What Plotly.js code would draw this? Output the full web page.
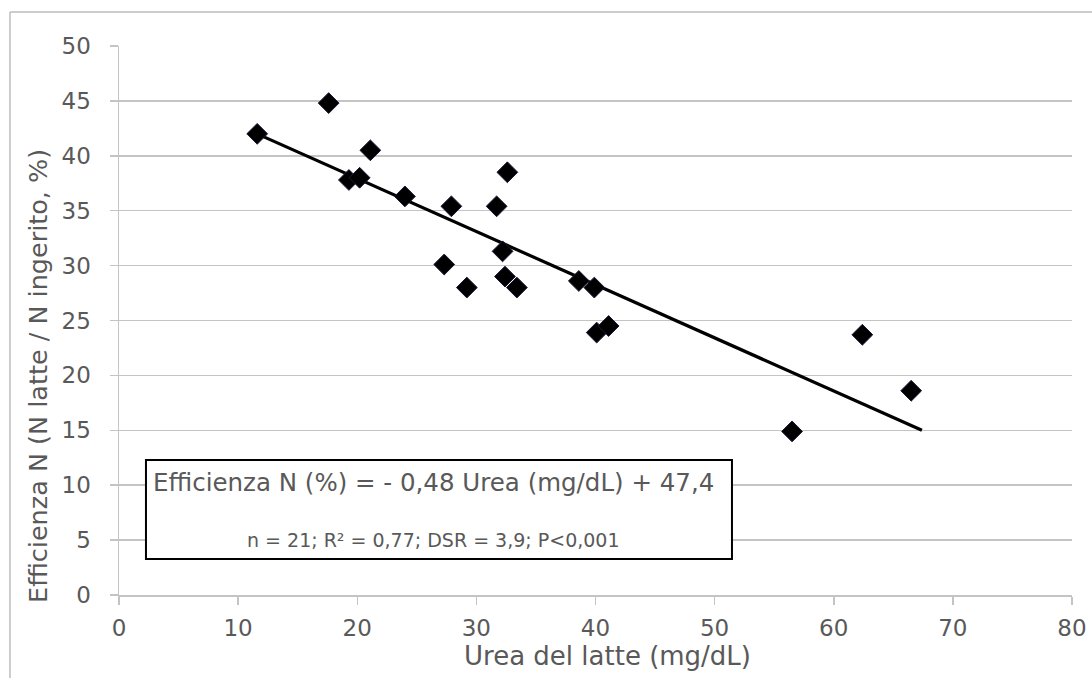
<!DOCTYPE html>
<html>
<head>
<meta charset="utf-8">
<script src="https://cdn.plot.ly/plotly-3.0.1.min.js"></script>
<style>html,body{margin:0;padding:0;background:#fff;}#chart{width:1092px;height:678px;}</style>
</head>
<body>
<div id="chart"></div>
<script>
// Data
const ureaX = [11.6, 17.6, 21.1, 19.3, 20.2, 24.0, 27.9, 31.7, 32.6, 32.2, 27.3, 29.2, 32.4, 33.4, 38.6, 39.9, 40.1, 41.1, 62.4, 66.5, 56.5];
const effY  = [42.0, 44.8, 40.5, 37.8, 38.0, 36.3, 35.4, 35.4, 38.5, 31.3, 30.1, 28.0, 29.0, 28.0, 28.6, 28.0, 23.9, 24.5, 23.7, 18.6, 14.9];
const fitX = [11.6, 67.4];
const fitY = [42.0, 15.0];
const xTicks = [0, 10, 20, 30, 40, 50, 60, 70, 80];
const yTicks = [0, 5, 10, 15, 20, 25, 30, 35, 40, 45, 50];
const xTitle = "Urea del latte (mg/dL)";
const yTitle = "Efficienza N (N latte / N ingerito, %)";
const eqText = "Efficienza N (%) = - 0,48 Urea (mg/dL) + 47,4";
const statText = "n = 21; R² = 0,77; DSR = 3,9; P<0,001";

const FONT = "DejaVu Sans, Verdana, sans-serif";
const TXT = "#595959";
const GRID = "#c4c4c4";

const traces = [
  {x: fitX, y: fitY, type: "scatter", mode: "lines", line: {color: "#000", width: 3.2}, hoverinfo: "skip"},
  {x: ureaX, y: effY, type: "scatter", mode: "markers",
   marker: {symbol: "diamond", size: 16, color: "#000", line: {color: "#1a1a3a", width: 1}}}
];

const layout = {
  width: 1092, height: 678,
  margin: {l: 119, r: 20, t: 46, b: 83},
  paper_bgcolor: "#fff", plot_bgcolor: "#fff",
  showlegend: false,
  font: {family: FONT, color: TXT, size: 23},
  xaxis: {
    range: [0, 80], tickvals: xTicks, ticktext: xTicks.map(String),
    showgrid: false, zeroline: false,
    showline: true, linecolor: GRID, linewidth: 1.5,
    ticks: "outside", ticklen: 8, tickcolor: GRID, tickwidth: 1.5,
    tickfont: {family: FONT, size: 23, color: TXT}, ticklabelstandoff: 4,
    fixedrange: true
  },
  yaxis: {
    range: [0, 50], tickvals: yTicks, ticktext: yTicks.map(String),
    showgrid: true, gridcolor: GRID, gridwidth: 1.5, zeroline: false,
    showline: true, linecolor: GRID, linewidth: 1.5,
    ticks: "outside", ticklen: 8, tickcolor: GRID, tickwidth: 1.5,
    tickfont: {family: FONT, size: 23, color: TXT}, ticklabelstandoff: 14,
    fixedrange: true
  },
  shapes: [
    {type: "line", xref: "paper", yref: "paper", x0: -0.1144, x1: -0.1144, y0: 1.062, y1: -0.16, line: {color: "#bdbdbd", width: 1.5}},
    {type: "line", xref: "paper", yref: "paper", x0: -0.1144, x1: 1.03, y0: 1.062, y1: 1.062, line: {color: "#bdbdbd", width: 1.5}},
    {type: "rect", xref: "paper", yref: "paper", x0: 0.0283, x1: 0.6432, y0: 0.0656, y1: 0.2459,
     fillcolor: "#fff", line: {color: "#000", width: 2}, layer: "above"}
  ],
  annotations: [
    {text: eqText, xref: "paper", yref: "paper", x: 0.3295, y: 0.2058, showarrow: false,
     xanchor: "center", yanchor: "middle", font: {family: FONT, size: 24.5, color: TXT}},
    {text: statText, xref: "paper", yref: "paper", x: 0.3295, y: 0.1002, showarrow: false,
     xanchor: "center", yanchor: "middle", font: {family: FONT, size: 19, color: TXT}},
    {text: xTitle, xref: "paper", yref: "paper", x: 0.5131, y: -0.1111, showarrow: false,
     xanchor: "center", yanchor: "middle", font: {family: FONT, size: 26, color: TXT}},
    {text: yTitle, xref: "paper", yref: "paper", x: -0.0850, y: 0.399, showarrow: false, textangle: -90,
     xanchor: "center", yanchor: "middle", font: {family: FONT, size: 25.5, color: TXT}}
  ]
};

Plotly.newPlot("chart", traces, layout, {displayModeBar: false, staticPlot: true});
</script>
</body>
</html>
